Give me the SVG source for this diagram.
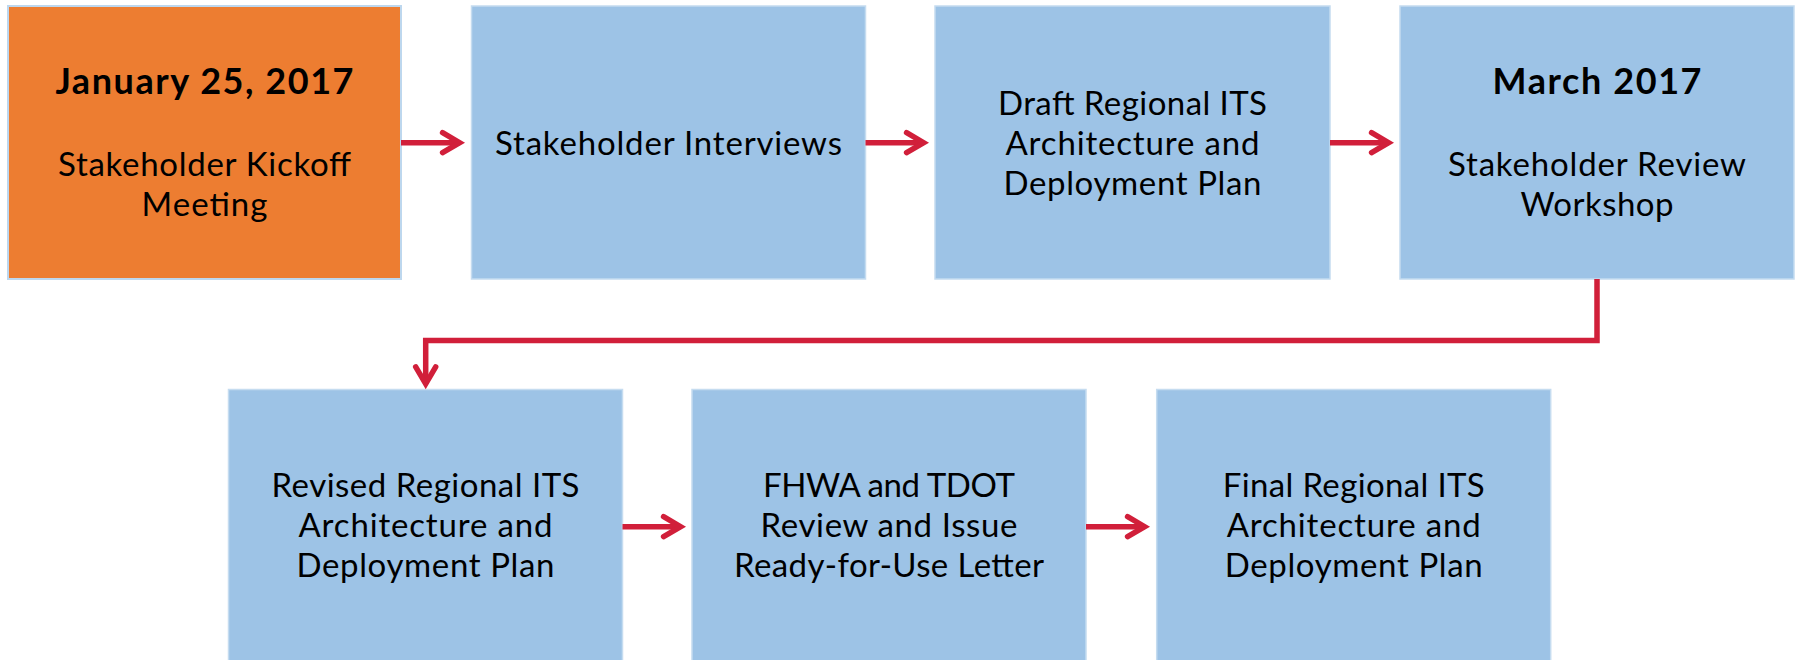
<svg xmlns="http://www.w3.org/2000/svg" width="1799" height="660" viewBox="0 0 1799 660">
<style>
.box{fill:#9DC3E6;stroke:#C5DCF0;stroke-width:1.5}
.orange{fill:#ED7D31;stroke:#BDD7EE;stroke-width:2}
text{font-family:Lato,"Open Sans","Liberation Sans",sans-serif;font-size:33px;fill:#000;text-anchor:middle}
.b{font-weight:bold;font-size:36px}
.con{fill:none;stroke:#D11F3A;stroke-width:5.5;stroke-linejoin:miter}
</style>
<defs>
<marker id="arr" markerUnits="userSpaceOnUse" markerWidth="40" markerHeight="40" viewBox="-30 -20 40 40" refX="0" refY="0" orient="auto" overflow="visible">
<path d="M-17,-10 L0,0 L-17,10" fill="none" stroke="#D11F3A" stroke-width="5.5" stroke-linecap="round" stroke-linejoin="miter"/>
</marker>
</defs>
<rect width="1799" height="660" fill="#fff"/>
<g id="n1">
<rect class="orange" x="8" y="6" width="393" height="273"/>
<text class="b" x="204.5" y="94" textLength="298" lengthAdjust="spacing">January 25, 2017</text>
<text x="204.5" y="175.5" textLength="293" lengthAdjust="spacing">Stakeholder Kickoff</text>
<text x="204.5" y="215.5" textLength="126" lengthAdjust="spacing">Meeting</text>
</g>
<g id="n2">
<rect class="box" x="471.5" y="6" width="394" height="273"/>
<text x="668.5" y="155" textLength="347" lengthAdjust="spacing">Stakeholder Interviews</text>
</g>
<g id="n3">
<rect class="box" x="935" y="6" width="395" height="273"/>
<text x="1132.5" y="114.5" textLength="269" lengthAdjust="spacing">Draft Regional ITS</text>
<text x="1132.5" y="154.5" textLength="254" lengthAdjust="spacing">Architecture and</text>
<text x="1132.5" y="194.5" textLength="258" lengthAdjust="spacing">Deployment Plan</text>
</g>
<g id="n4">
<rect class="box" x="1400" y="6" width="394" height="273"/>
<text class="b" x="1597" y="93.5" textLength="209" lengthAdjust="spacing">March 2017</text>
<text x="1597" y="175.5" textLength="298" lengthAdjust="spacing">Stakeholder Review</text>
<text x="1597" y="215.5" textLength="153" lengthAdjust="spacing">Workshop</text>
</g>
<g id="n5">
<rect class="box" x="228.5" y="389.5" width="394" height="273"/>
<text x="425.5" y="497" textLength="308" lengthAdjust="spacing">Revised Regional ITS</text>
<text x="425.5" y="537" textLength="254" lengthAdjust="spacing">Architecture and</text>
<text x="425.5" y="577" textLength="258" lengthAdjust="spacing">Deployment Plan</text>
</g>
<g id="n6">
<rect class="box" x="692" y="389.5" width="394" height="273"/>
<text x="889" y="497" textLength="252" lengthAdjust="spacing">FHWA and TDOT</text>
<text x="889" y="537" textLength="257" lengthAdjust="spacing">Review and Issue</text>
<text x="889" y="577" textLength="310" lengthAdjust="spacing">Ready-for-Use Letter</text>
</g>
<g id="n7">
<rect class="box" x="1156.7" y="389.5" width="394" height="273"/>
<text x="1353.7" y="497" textLength="262" lengthAdjust="spacing">Final Regional ITS</text>
<text x="1353.7" y="537" textLength="254" lengthAdjust="spacing">Architecture and</text>
<text x="1353.7" y="577" textLength="258" lengthAdjust="spacing">Deployment Plan</text>
</g>
<g id="connectors">
<path class="con" d="M401,142.7 H459.6" marker-end="url(#arr)"/>
<path class="con" d="M865.5,142.7 H923.6" marker-end="url(#arr)"/>
<path class="con" d="M1330,142.7 H1388.6" marker-end="url(#arr)"/>
<path class="con" d="M1597,279 V340.5 H425.7 V383.9" marker-end="url(#arr)"/>
<path class="con" d="M622.5,526.7 H680.6" marker-end="url(#arr)"/>
<path class="con" d="M1086,526.7 H1144.6" marker-end="url(#arr)"/>
</g>
</svg>
